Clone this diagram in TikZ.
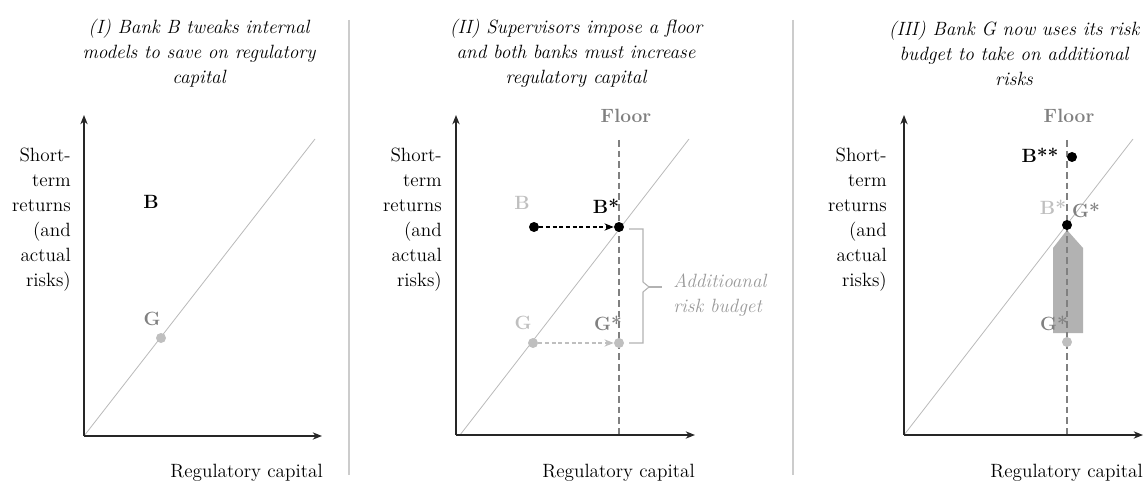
\documentclass[tikz,border=0pt]{standalone}
\usetikzlibrary{arrows.meta}
\begin{document}
\begin{tikzpicture}[x=0.75pt, y=-0.75pt, >={Stealth[length=7pt, width=5.5pt]},
    txt/.style={inner sep=0pt, font=\fontsize{14.4}{18.75}\selectfont},
    title/.style={txt, align=center, font=\fontsize{14.4}{18.75}\selectfont\itshape},
    lab/.style={txt, font=\fontsize{14.4}{18.75}\selectfont\bfseries},
    ylab/.style={txt, align=right, anchor=east},
    xlab/.style={txt, anchor=base east},
    dot/.style={circle, fill, inner sep=0pt, minimum size=7.5pt},
    axis/.style={->, line width=1pt, black!85},
    diag/.style={black!27, line width=0.6pt},
    floorline/.style={black!50, line width=1.8pt, dash pattern=on 5pt off 3pt},
    sep/.style={black!20, line width=0.8pt}]
    \useasboundingbox (0,0) rectangle (1148,481);

    \coordinate (S1a) at (349,20);
    \coordinate (S1b) at (349,475);
    \coordinate (S2a) at (793,20);
    \coordinate (S2b) at (793,475);
    \draw[sep] (S1a) -- (S1b);
    \draw[sep] (S2a) -- (S2b);

    \node[title] (T1) at (199,53) {(I) Bank B tweaks internal\\models to save on regulatory\\capital};
    \node[title] (T2) at (576,53) {(II) Supervisors impose a floor\\and both banks must increase\\regulatory capital};
    \node[title] (T3) at (1014,53) {(III) Bank G now uses its risk\\budget to take on additional\\risks};

    \coordinate (O1) at (84,436);
    \coordinate (Y1) at (84,115);
    \coordinate (X1) at (322,436);
    \coordinate (D1) at (315,139);
    \draw[diag] (O1) -- (D1);
    \draw[axis] (O1) -- (Y1);
    \draw[axis] (O1) -- (X1);
    \node[ylab] (ylab1) at (71,220) {Short-\\term\\returns\\(and\\actual\\risks)};
    \node[xlab] (xlab1) at (323,477) {Regulatory capital};
    \node[dot, black!25] (G1) at (161,338) {};
    \node[lab] (labB1) at (151,202) {B};
    \node[lab, black!50] (labG1) at (152,319) {G};

    \coordinate (O2) at (456,435);
    \coordinate (Y2) at (456,115);
    \coordinate (X2) at (695,435);
    \coordinate (D2o) at (460,435);
    \coordinate (D2) at (689,139);
    \coordinate (F2a) at (619,140);
    \coordinate (F2b) at (619,435);
    \draw[diag] (D2o) -- (D2);
    \draw[floorline] (F2a) -- (F2b);
    \draw[axis] (O2) -- (Y2);
    \draw[axis] (O2) -- (X2);
    \node[ylab] (ylab2) at (442,220) {Short-\\term\\returns\\(and\\actual\\risks)};
    \node[xlab] (xlab2) at (695,477) {Regulatory capital};
    \node[lab, black!50] (floor2) at (626,116) {Floor};
    \node[dot] (B2) at (534,227) {};
    \node[dot] (Bs2) at (619,227) {};
    \node[dot, black!25] (G2) at (533,343) {};
    \node[dot, black!25] (Gs2) at (619,343) {};
    \draw[->, densely dashed, line width=0.8pt] (B2) -- (Bs2);
    \draw[->, densely dashed, line width=0.8pt, black!25] (G2) -- (Gs2);
    \node[lab, black!25] (labB2) at (522,203) {B};
    \node[lab] (labBs2) at (606,206) {B*};
    \node[lab, black!25] (labG2) at (523,323) {G};
    \node[lab, black!50] (labGs2) at (608,323) {G*};
    \coordinate (brA) at (629,229);
    \coordinate (brB) at (643,229);
    \coordinate (brC) at (643,282);
    \coordinate (brM) at (649,287);
    \coordinate (brT) at (662,287);
    \coordinate (brD) at (643,292);
    \coordinate (brE) at (643,343);
    \coordinate (brF) at (629,343);
    \draw[black!30, line width=0.8pt] (brA) -- (brB) -- (brC) -- (brM) -- (brD) -- (brE) -- (brF);
    \draw[black!30, line width=0.8pt] (brM) -- (brT);
    \node[txt, align=left, anchor=west, black!40, font=\fontsize{14.4}{18.75}\selectfont\itshape] (budget) at (673,295) {Additioanal\\risk budget};

    \coordinate (O3) at (904,435);
    \coordinate (Y3) at (904,115);
    \coordinate (X3) at (1143,435);
    \coordinate (D3) at (1133,139);
    \coordinate (F3a) at (1067,140);
    \coordinate (F3b) at (1067,435);
    \draw[diag] (O3) -- (D3);
    \fill[black!30] (1067,230) -- (1083,248) -- (1083,333) -- (1053,333) -- (1053,248) -- cycle;
    \draw[floorline] (F3a) -- (F3b);
    \draw[axis] (O3) -- (Y3);
    \draw[axis] (O3) -- (X3);
    \node[ylab] (ylab3) at (887,220) {Short-\\term\\returns\\(and\\actual\\risks)};
    \node[xlab] (xlab3) at (1143,477) {Regulatory capital};
    \node[lab, black!50] (floor3) at (1069,116) {Floor};
    \node[dot] (Bss3) at (1072,157) {};
    \node[dot] (Bs3) at (1067,225) {};
    \node[dot, black!25] (G3) at (1067,342) {};
    \node[lab] (labBss3) at (1040,155) {B**};
    \node[lab, black!25] (labBs3) at (1053,207) {B*};
    \node[lab, black!50] (labGs3a) at (1086,210) {G*};
    \node[lab, black!50] (labGs3) at (1054,323) {G*};
\end{tikzpicture}
\end{document}
